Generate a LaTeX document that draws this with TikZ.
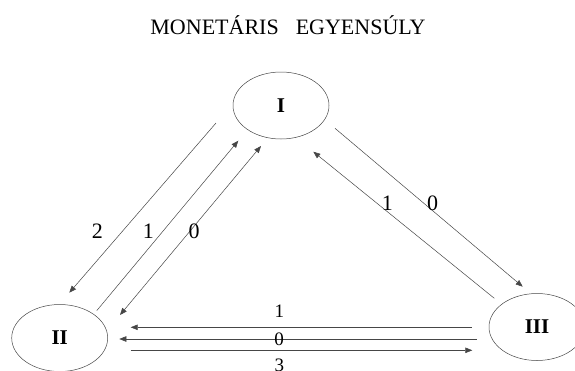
\documentclass[tikz,border=0pt]{standalone}
\usepackage{fontspec}
\setmainfont{Liberation Serif}
\usepackage{tikz}
\usetikzlibrary{arrows.meta,shapes.geometric}
\definecolor{lnegray}{RGB}{70,70,70}
\tikzset{
  region/.style={ellipse,draw=lnegray,line width=0.5pt,minimum width=96pt,
                 minimum height=67pt,inner sep=0pt,
                 font=\fontsize{21}{24}\selectfont\bfseries},
  flow/.style={-{Triangle[length=7pt,width=5.5pt]},line width=0.5pt,draw=lnegray},
  both/.style={{Triangle[length=7pt,width=5.5pt]}-{Triangle[length=7pt,width=5.5pt]},
               line width=0.5pt,draw=lnegray},
  num/.style={font=\fontsize{22}{24}\selectfont,inner sep=0pt},
  numlow/.style={font=\fontsize{19}{22}\selectfont,inner sep=0pt},
}

\begin{document}
\begin{tikzpicture}[x=1pt,y=-1pt]
    \clip (0,0) rectangle (575,370);
    \node[anchor=base,font=\fontsize{22}{26}\selectfont] (title) at (288,34.3)
         {MONETÁRIS\hspace{17pt}EGYENSÚLY};
    % the three regions
    \node[region] (I)   at (281,105.5) {I};
    \node[region] (II)  at (59.7,338)  {II};
    \node[region] (III) at (537,327)   {III};
    % ends of the flows
    \coordinate (I2)   at (216,123);    \coordinate (II2)  at (69.3,292.7);
    \coordinate (II1)  at (96.7,310.7); \coordinate (I1)   at (238.3,140.7);
    \coordinate (II0)  at (120,315);    \coordinate (I0)   at (261,146);
    \coordinate (I0r)  at (335,128.3);  \coordinate (III0) at (522.7,286.7);
    \coordinate (III1) at (494.3,298.3);\coordinate (I1r)  at (313.3,151.7);
    \coordinate (IIIa) at (471.7,327.3);\coordinate (IIa)  at (130.7,327.3);
    \coordinate (IIIb) at (476.7,339);  \coordinate (IIb)  at (119.3,339);
    \coordinate (IIc)  at (130.7,350.3);\coordinate (IIIc) at (472.3,350.3);
    \foreach \a/\b in {I2/II2,II1/I1,I0r/III0,III1/I1r,IIIa/IIa,IIIb/IIb,IIc/IIIc}
      \draw[flow] (\a) -- (\b);
    \draw[both] (II0) -- (I0);
    % numbers on the flows
    \foreach \x/\y/\n in {97.3/231/2,148.3/231/1,194/231/0,
                          387.3/203.3/1,432.7/203.3/0}
      \node[num] at (\x,\y) {\n};
    \foreach \x/\y/\n in {279.3/311.7/1,279/339/0,279.3/365/3}
      \node[numlow] at (\x,\y) {\n};
\end{tikzpicture}
\end{document}
